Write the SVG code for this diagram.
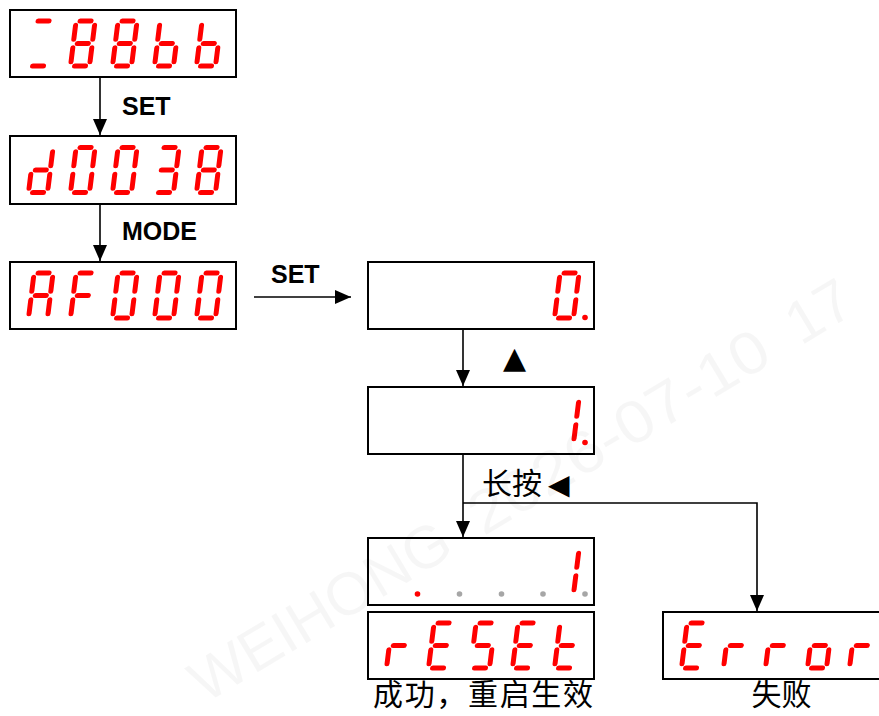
<svg xmlns="http://www.w3.org/2000/svg" width="879" height="716" viewBox="0 0 879 716">
<style>
.box{fill:#fff;stroke:#000;stroke-width:2}
.conn{fill:none;stroke:#000;stroke-width:1.6}
.lbl{font-family:"Liberation Sans",Arial,sans-serif;font-weight:bold;font-size:25px;fill:#000}
.cjk{font-family:"Noto Sans CJK SC",sans-serif;font-size:30px;fill:#000}
.sym{font-family:"DejaVu Sans",sans-serif;fill:#000}
.digits{stroke:#ff0000;stroke-width:5;stroke-linecap:round;fill:none}
.dotr{fill:#ff0000}
.dotg{fill:#a6a6a6}
.wm{font-family:"Liberation Sans",Arial,sans-serif;font-size:60px;fill:#000;fill-opacity:0.035}
</style>
<defs>
<marker id="ah" markerUnits="userSpaceOnUse" markerWidth="16" markerHeight="14" refX="16" refY="7" orient="auto"><path d="M0,0 L16,7 L0,14 Z" fill="#000"/></marker>
<line id="sa" x1="4" y1="-22.5" x2="15" y2="-22.5"/>
<line id="sb" x1="19" y1="-18.3" x2="19" y2="-4.2"/>
<line id="sc" x1="19" y1="4.2" x2="19" y2="18.3"/>
<line id="sd" x1="4" y1="22.5" x2="15" y2="22.5"/>
<line id="se" x1="0" y1="4.2" x2="0" y2="18.3"/>
<line id="sf" x1="0" y1="-18.3" x2="0" y2="-4.2"/>
<line id="sg" x1="4" y1="0" x2="15" y2="0"/>
<g id="gAD" transform="skewX(-7)"><use href="#sa"/><use href="#sd"/></g>
<g id="g0" transform="skewX(-7)"><use href="#sa"/><use href="#sb"/><use href="#sc"/><use href="#sd"/><use href="#se"/><use href="#sf"/></g>
<g id="g1" transform="skewX(-7)"><use href="#sb"/><use href="#sc"/></g>
<g id="g3" transform="skewX(-7)"><use href="#sa"/><use href="#sb"/><use href="#sc"/><use href="#sd"/><use href="#sg"/></g>
<g id="g8" transform="skewX(-7)"><use href="#sa"/><use href="#sb"/><use href="#sc"/><use href="#sd"/><use href="#se"/><use href="#sf"/><use href="#sg"/></g>
<g id="gb" transform="skewX(-7)"><use href="#sc"/><use href="#sd"/><use href="#se"/><use href="#sf"/><use href="#sg"/></g>
<g id="gd" transform="skewX(-7)"><use href="#sb"/><use href="#sc"/><use href="#sd"/><use href="#se"/><use href="#sg"/></g>
<g id="gA" transform="skewX(-7)"><use href="#sa"/><use href="#sb"/><use href="#sc"/><use href="#se"/><use href="#sf"/><use href="#sg"/></g>
<g id="gF" transform="skewX(-7)"><use href="#sa"/><use href="#se"/><use href="#sf"/><use href="#sg"/></g>
<g id="gr" transform="skewX(-7)"><use href="#se"/><use href="#sg"/></g>
<g id="gE" transform="skewX(-7)"><use href="#sa"/><use href="#sd"/><use href="#se"/><use href="#sf"/><use href="#sg"/></g>
<g id="gS" transform="skewX(-7)"><use href="#sa"/><use href="#sc"/><use href="#sd"/><use href="#sf"/><use href="#sg"/></g>
<g id="gt" transform="skewX(-7)"><use href="#sd"/><use href="#se"/><use href="#sf"/><use href="#sg"/></g>
<g id="go" transform="skewX(-7)"><use href="#sc"/><use href="#sd"/><use href="#se"/><use href="#sg"/></g>
</defs>

<g id="connectors">
<line class="conn" x1="100" y1="77" x2="100" y2="135" marker-end="url(#ah)"/>
<line class="conn" x1="100" y1="204" x2="100" y2="261" marker-end="url(#ah)"/>
<line class="conn" x1="254" y1="297" x2="351" y2="297" marker-end="url(#ah)"/>
<line class="conn" x1="463" y1="329" x2="463" y2="386" marker-end="url(#ah)"/>
<line class="conn" x1="463" y1="454" x2="463" y2="537" marker-end="url(#ah)"/>
<polyline class="conn" points="463,503 757,503 757,611" marker-end="url(#ah)"/>
<text class="lbl" x="122" y="115">SET</text>
<text class="lbl" x="122" y="240">MODE</text>
<text class="lbl" x="271" y="283">SET</text>
<text class="sym" x="503" y="368" font-size="30">▲</text>
<text class="cjk" x="482" y="494">长按<tspan class="sym" font-size="28" dx="6">◀</tspan></text>
</g>

<g id="node1">
<rect class="box" x="10" y="10" width="226" height="67"/>
<g class="digits">
<use href="#gAD" x="31.3" y="43.5"/><use href="#g8" x="73.3" y="43.5"/><use href="#g8" x="115.3" y="43.5"/><use href="#gb" x="157.3" y="43.5"/><use href="#gb" x="199.3" y="43.5"/>
</g>
</g>

<g id="node2">
<rect class="box" x="10" y="136" width="226" height="68"/>
<g class="digits">
<use href="#gd" x="31.3" y="170"/><use href="#g0" x="73.3" y="170"/><use href="#g0" x="115.3" y="170"/><use href="#g3" x="157.3" y="170"/><use href="#g8" x="199.3" y="170"/>
</g>
</g>

<g id="node3">
<rect class="box" x="10" y="262" width="226" height="67"/>
<g class="digits">
<use href="#gA" x="31.3" y="295.5"/><use href="#gF" x="73.3" y="295.5"/><use href="#g0" x="115.3" y="295.5"/><use href="#g0" x="157.3" y="295.5"/><use href="#g0" x="199.3" y="295.5"/>
</g>
</g>

<g id="node4">
<rect class="box" x="368" y="262" width="226" height="67"/>
<g class="digits"><use href="#g0" x="557.3" y="295.5"/></g>
<circle class="dotr" cx="585" cy="317.5" r="2.8"/>
</g>

<g id="node5">
<rect class="box" x="368" y="387" width="226" height="67"/>
<g class="digits"><use href="#g1" x="557.3" y="420.5"/></g>
<circle class="dotr" cx="585" cy="442.5" r="2.8"/>
</g>

<g id="node6">
<rect class="box" x="368" y="538" width="226" height="67"/>
<g class="digits"><use href="#g1" x="557.3" y="571.5"/></g>
<circle class="dotr" cx="417.5" cy="594" r="2.8"/>
<circle class="dotg" cx="459.5" cy="594" r="2.8"/>
<circle class="dotg" cx="501.5" cy="594" r="2.8"/>
<circle class="dotg" cx="543" cy="594" r="2.8"/>
<circle class="dotg" cx="585" cy="594" r="2.8"/>
</g>

<g id="node7">
<rect class="box" x="368" y="612" width="226" height="67"/>
<g class="digits">
<use href="#gr" x="389.3" y="645.5"/><use href="#gE" x="431.3" y="645.5"/><use href="#gS" x="473.3" y="645.5"/><use href="#gE" x="515.3" y="645.5"/><use href="#gt" x="557.3" y="645.5"/>
</g>
<text class="cjk" x="483" y="705" font-size="29" text-anchor="middle" textLength="220" lengthAdjust="spacing">成功，重启生效</text>
</g>

<g id="node8">
<rect class="box" x="663" y="612" width="226" height="67"/>
<g class="digits">
<use href="#gE" x="684.3" y="645.5"/><use href="#gr" x="726.3" y="645.5"/><use href="#gr" x="768.3" y="645.5"/><use href="#go" x="810.3" y="645.5"/><use href="#gr" x="852.3" y="645.5"/>
</g>
<text class="cjk" x="781.5" y="705" font-size="29" text-anchor="middle">失败</text>
</g>

<g id="watermark" transform="rotate(-31 205 704)">
<text class="wm" x="205" y="704">WEIHONG</text>
<text class="wm" x="530" y="704" textLength="340" lengthAdjust="spacingAndGlyphs">2026-07-10</text>
<text class="wm" x="900" y="704">17</text>
</g>
</svg>
